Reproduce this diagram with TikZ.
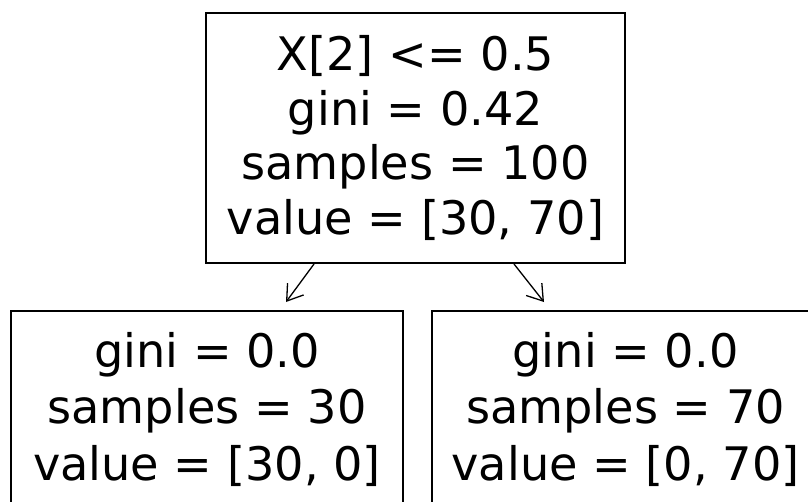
\documentclass[tikz,border=0pt]{standalone}
\usepackage{fontspec}
\setmainfont{DejaVu Sans}
\usetikzlibrary{arrows.meta}
\tikzset{
  treebox/.style={draw=black, line width=2pt, inner sep=0pt, align=center, rectangle},
  rootfont/.style={font=\fontsize{46.2}{54.5}\selectfont},
  leaffont/.style={font=\fontsize{46.2}{56.5}\selectfont},
  arr/.style={draw=black, line width=1.3pt, -{Straight Barb[length=15pt,width=20pt]}}
}
\begin{document}
\begin{tikzpicture}[x=1pt,y=-1pt]
\useasboundingbox (0,0) rectangle (808,501);
\clip (0,0) rectangle (808,501);
\fill[white] (0,0) rectangle (808,501);
\node[treebox, rootfont, minimum width=419pt, minimum height=250pt] (root) at (415.5,138)
  {X[2] <= 0.5\\gini = 0.42\\samples = 100\\value = [30, 70]};
\node[treebox, leaffont, minimum width=392pt, minimum height=196pt] (left) at (207,409)
  {gini = 0.0\\samples = 30\\value = [30, 0]};
\node[treebox, leaffont, minimum width=387pt, minimum height=196pt] (right) at (625.5,409)
  {gini = 0.0\\samples = 70\\value = [0, 70]};
\draw[arr] ([xshift=109pt]root.south west) -- ([xshift=276pt,yshift=8pt]left.north west);
\draw[arr] ([xshift=309pt]root.south west) -- ([xshift=113pt,yshift=8pt]right.north west);
\end{tikzpicture}
\end{document}
